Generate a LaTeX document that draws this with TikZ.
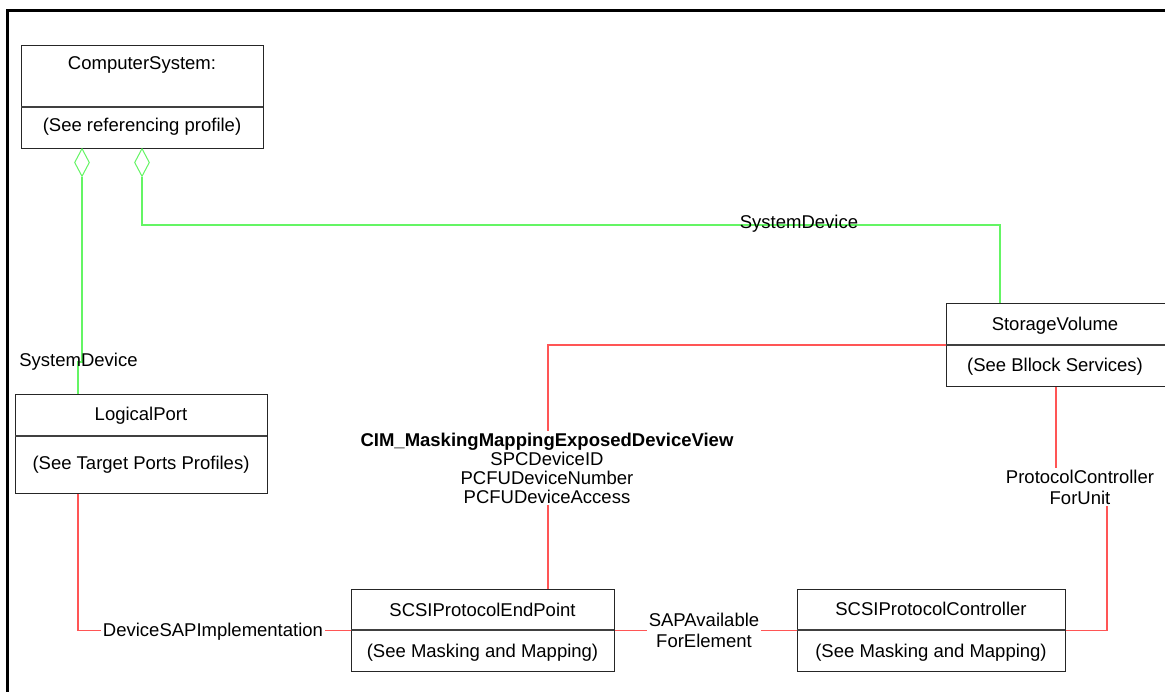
\documentclass[tikz,border=0pt]{standalone}
\usepackage{fontspec}
\setmainfont{Liberation Sans}
\usetikzlibrary{shapes.geometric}
\definecolor{lgreen}{RGB}{100,245,100}
\definecolor{lred}{RGB}{255,85,85}
\begin{document}
\begin{tikzpicture}[x=1pt,y=-1pt,
  cls/.style={draw=black!85, line width=1.2pt, inner sep=0pt, anchor=north west},
  divline/.style={draw=black!75, line width=1.2pt},
  txt/.style={font=\fontsize{18.5}{19}\selectfont, inner sep=0pt, anchor=base},
  mtxt/.style={font=\fontsize{18.5}{21}\selectfont, inner sep=2pt, align=center, fill=white},
  ag/.style={draw=lgreen, line width=1.3pt},
  ar/.style={draw=lred, line width=1.2pt},
  agg/.style={diamond, draw=lgreen, line width=1pt, minimum width=15pt, minimum height=28pt, inner sep=0pt, anchor=north}]
\useasboundingbox (0,0) rectangle (1165,692);
\fill[white] (0,0) rectangle (1165,692);
% frame
\draw[line width=3pt] (7,720) -- (7,11) -- (1190,11);

% class boxes
\node[cls, minimum width=242pt, minimum height=103pt] (cs) at (21,45) {};
\draw[divline] (21,107) -- (263,107);
\node[txt] (csn) at (142,70) {ComputerSystem:};
\node[txt] (csb) at (142,132) {(See referencing profile)};

\node[cls, minimum width=252pt, minimum height=99pt] (lp) at (15,394) {};
\draw[divline] (15,436) -- (267,436);
\node[txt] (lpn) at (141,421) {LogicalPort};
\node[txt] (lpb) at (141,470) {(See Target Ports Profiles)};

\node[cls, minimum width=263pt, minimum height=82pt] (ep) at (351,589) {};
\draw[divline] (351,630) -- (614,630);
\node[txt] (epn) at (482.5,616) {SCSIProtocolEndPoint};
\node[txt] (epb) at (482.5,657) {(See Masking and Mapping)};

\node[cls, minimum width=268pt, minimum height=82pt] (pc) at (797,589) {};
\draw[divline] (797,630) -- (1065,630);
\node[txt] (pcn) at (931,615) {SCSIProtocolController};
\node[txt] (pcb) at (931,657) {(See Masking and Mapping)};

\node[cls, minimum width=224pt, minimum height=83pt] (sv) at (946,303) {};
\draw[divline] (946,345) -- (1170,345);
\node[txt] (svn) at (1055,331) {StorageVolume};
\node[txt] (svb) at (1055,372) {(See Bllock Services)};

% aggregation diamonds
\node[agg] (d1) at (82,148) {};
\node[agg] (d2) at (142,148) {};

% green connectors
\draw[ag] (d1.south) -- ++(0,185) -| ([xshift=63pt]lp.north west);
\draw[ag] (d2.south) -- ++(0,48) -| ([xshift=54pt]sv.north west);
\node[txt] (sd1) at (78.5,367) {SystemDevice};
\node[txt] (sd2) at (799,229) {SystemDevice};

% red connectors
\draw[ar] ([xshift=63pt]lp.south west) |- (ep.west);
\draw[ar] (sv.west) -| ([xshift=197pt]ep.north west);
\draw[ar] ([xshift=110pt]sv.south west) -- ++(0,101) -- ++(51,0) |- (pc.east);
\draw[ar] (ep.east) -- (pc.west);

% connector labels
\node[txt, fill=white, inner sep=2pt] (dsap) at (213,636) {DeviceSAPImplementation};
\node[font=\fontsize{18.5}{19}\selectfont, inner sep=2pt, align=center, fill=white] (cim) at (547,468)
  {\textbf{CIM\_MaskingMappingExposedDeviceView}\\SPCDeviceID\\PCFUDeviceNumber\\PCFUDeviceAccess};
\node[mtxt] (sap) at (704,630) {SAPAvailable\\ForElement};
\node[mtxt] (pcfu) at (1080,487) {ProtocolController\\ForUnit};
\end{tikzpicture}
\end{document}
